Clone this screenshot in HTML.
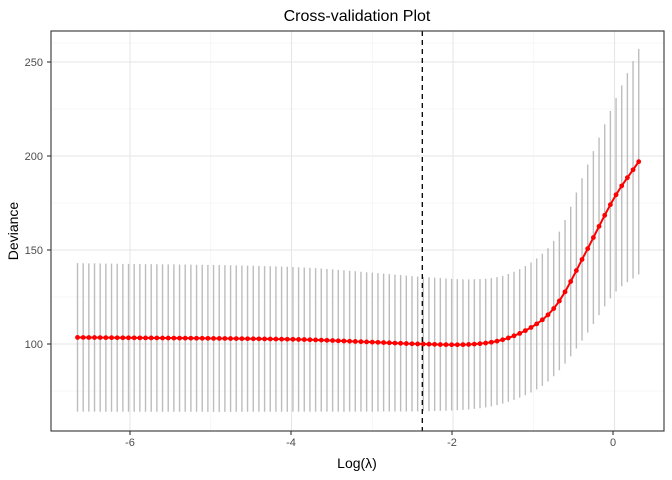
<!DOCTYPE html>
<html><head><meta charset="utf-8"><style>
body{margin:0;background:#fff}
svg{display:block;font-family:"Liberation Sans",sans-serif}
</style></head><body>
<svg id="s" width="672" height="480" xmlns="http://www.w3.org/2000/svg">
<rect width="672" height="480" fill="#fff"/>
<g id="grid"></g>
<g id="bars"></g>
<line x1="422.3" y1="31" x2="422.3" y2="431" stroke="#000" stroke-width="1.3" stroke-dasharray="5,4"/>
<g id="pts"></g>
<rect x="51" y="31" width="613" height="400" fill="none" stroke="#333" stroke-width="1.1"/>
<g id="ticks" stroke="#333" stroke-width="1.1"></g>
<g font-size="11" fill="#4d4d4d" text-anchor="end">
<text x="43" y="66">250</text><text x="43" y="160">200</text><text x="43" y="254">150</text><text x="43" y="348">100</text>
</g>
<g font-size="11" fill="#4d4d4d" text-anchor="middle">
<text x="130" y="446">-6</text><text x="291" y="446">-4</text><text x="452" y="446">-2</text><text x="613" y="446">0</text>
</g>
<text x="357" y="468" font-size="14" text-anchor="middle" fill="#000">Log(λ)</text>
<text transform="translate(18,231) rotate(-90)" font-size="14" text-anchor="middle" fill="#000">Deviance</text>
<text x="357" y="21" font-size="16" text-anchor="middle" fill="#000">Cross-validation Plot</text>
</svg>
<script>
var NS="http://www.w3.org/2000/svg";
function X(v){return 130+(v+6)*80.75;}
function Y(d){return 344-(d-100)*1.88;}
function el(p,t,a){var e=document.createElementNS(NS,t);for(var k in a)e.setAttribute(k,a[k]);document.getElementById(p).appendChild(e);}
function interp(tab,x){
  var n=tab.length;
  for(var i=0;i<n-1;i++){if(x<=tab[i+1][0]||i==n-2){
    var p0=tab[Math.max(i-1,0)],p1=tab[i],p2=tab[i+1],p3=tab[Math.min(i+2,n-1)];
    var h=p2[0]-p1[0],t=(x-p1[0])/h;
    var m1=(p2[1]-p0[1])/(p2[0]-p0[0])*h, m2=(p3[1]-p1[1])/(p3[0]-p1[0])*h;
    var t2=t*t,t3=t2*t;
    return (2*t3-3*t2+1)*p1[1]+(t3-2*t2+t)*m1+(-2*t3+3*t2)*p2[1]+(t3-t2)*m2;}}
}
var M=[[-6.65,103.5],[-4,102.5],[-3,101],[-2.4,100],[-1.75,99.9],[-1.33,103],[-0.92,112],[-0.675,123.4],[-0.365,148],[0,178],[0.3,197]];
var S=[[-6.65,39.5],[-4,38.5],[-2.4,35.8],[-1.75,34.5],[-1.33,34],[-0.92,35],[-0.675,37],[-0.365,44],[0,51],[0.3,60]];
[43,62,109,156,203,250,297,344,391].forEach(function(y){var maj=(y==62||y==156||y==250||y==344);el("grid","line",{x1:51,x2:664,y1:y,y2:y,stroke:maj?"#e6e6e6":"#f0f0f0","stroke-width":maj?1.1:0.6});});
for(var v=-7;v<=0.5;v+=1){var x=X(v);if(x<51||x>664)continue;var maj=(v%2==0);el("grid","line",{x1:x,x2:x,y1:31,y2:431,stroke:maj?"#e6e6e6":"#f0f0f0","stroke-width":maj?1.1:0.6});}
[62,156,250,344].forEach(function(y){el("ticks","line",{x1:47,x2:51,y1:y,y2:y});});
[130,291,452,613].forEach(function(x){el("ticks","line",{x1:x,x2:x,y1:431,y2:435});});
var N=100,pts=[];
for(var i=0;i<N;i++){var v=-6.65+i*(6.95/(N-1));var m=interp(M,v),s=interp(S,v);
el("bars","line",{x1:X(v),x2:X(v),y1:Y(m-s),y2:Y(m+s),stroke:"#bdbdbd","stroke-width":1.4});pts.push([X(v),Y(m)]);}
el("pts","polyline",{points:pts.map(function(p){return p.join(",")}).join(" "),fill:"none",stroke:"#ff0000","stroke-width":2});
pts.forEach(function(p){el("pts","circle",{cx:p[0],cy:p[1],r:2.4,fill:"#ff0000"});});
</script>
</body></html>
